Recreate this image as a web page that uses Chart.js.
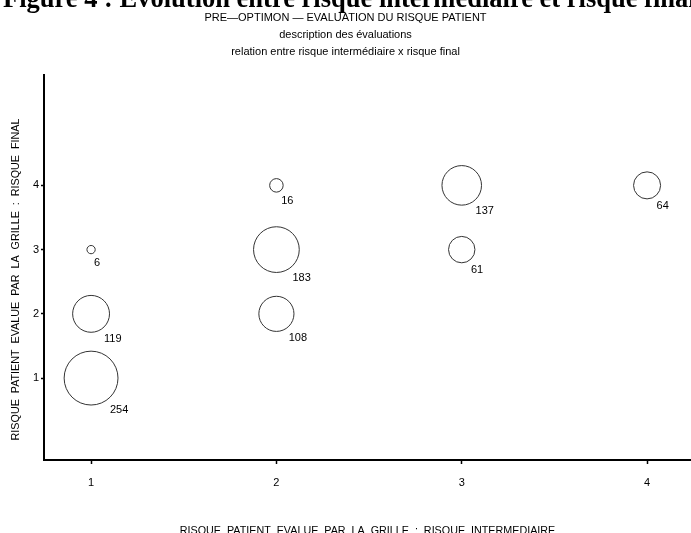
<!DOCTYPE html>
<html lang="fr">
<head>
  <meta charset="UTF-8">
  <title>Evolution entre risque intermédiaire et risque final</title>
  <script src="https://cdn.jsdelivr.net/npm/chart.js"></script>
  <style>
    html, body { margin: 0; padding: 0; background: #fff; overflow: hidden; }
    .page { position: relative; width: 691px; height: 533px; overflow: hidden; }
    .caption {
      position: absolute; left: 3px; top: -15px; white-space: nowrap;
      font: bold 26.5px/26.5px "Liberation Serif", "Times New Roman", serif; color: #000;
    }
    canvas { position: absolute; left: 0; top: 0; }
  </style>
</head>
<body>
  <div class="page">
    <canvas id="bubbleChart" width="691" height="533"></canvas>
    <div class="caption">Figure 4 : Evolution entre risque intermédiaire et risque final</div>
  </div>

  <script>
    // risque intermediaire (x), risque final (y), nombre de patients
    const risqueInter = [1, 1, 1, 2, 2, 2, 3, 3, 4];
    const risqueFinal = [1, 2, 3, 2, 3, 4, 3, 4, 4];
    const effectifs = [254, 119, 6, 108, 183, 16, 61, 137, 64];
    const tickValues = [1, 2, 3, 4];

    const titleLines = [
      "PRE\u2014OPTIMON \u2014 EVALUATION DU RISQUE PATIENT",
      "description des évaluations",
      "relation entre risque intermédiaire x risque final"
    ];
    const xTitle = "RISQUE  PATIENT  EVALUE  PAR  LA  GRILLE  :  RISQUE  INTERMEDIAIRE";
    const yTitle = "RISQUE  PATIENT  EVALUE  PAR  LA  GRILLE  :  RISQUE  FINAL";
    const font = "'Liberation Sans', Arial, sans-serif";

    const points = risqueInter.map((x, i) => ({ x: x, y: risqueFinal[i] }));
    const radiusFor = n => 1.69 * Math.sqrt(n);

    // count written below right of each circle
    const countLabels = {
      id: "countLabels",
      afterDatasetsDraw(chart) {
        const ctx = chart.ctx;
        const meta = chart.getDatasetMeta(0);
        ctx.save();
        ctx.font = "11px " + font;
        ctx.fillStyle = "#000";
        ctx.textAlign = "left";
        ctx.textBaseline = "middle";
        meta.data.forEach((el, i) => {
          const r = radiusFor(effectifs[i]);
          ctx.fillText(String(effectifs[i]), el.x + 0.7 * r, el.y + 0.78 * r + 10.5);
        });
        ctx.restore();
      }
    };

    // vertical axis title, sits a bit below the middle of the axis
    const yAxisTitle = {
      id: "yAxisTitle",
      afterDraw(chart) {
        const ctx = chart.ctx;
        const area = chart.chartArea;
        ctx.save();
        ctx.translate(16, (area.top + area.bottom) / 2 + 12);
        ctx.rotate(-Math.PI / 2);
        ctx.font = "10.75px " + font;
        ctx.fillStyle = "#000";
        ctx.textAlign = "center";
        ctx.textBaseline = "middle";
        ctx.fillText(yTitle, 0, 0);
        ctx.restore();
      }
    };

    const noPadding = s => {
      s.paddingLeft = 0; s.paddingRight = 0; s.paddingTop = 0; s.paddingBottom = 0;
    };

    new Chart(document.getElementById("bubbleChart"), {
      type: "bubble",
      data: {
        datasets: [{
          data: points,
          radius: ctx => radiusFor(effectifs[ctx.dataIndex]),
          backgroundColor: "rgba(0,0,0,0)",
          borderColor: "#333",
          borderWidth: 1,
          hoverRadius: 0
        }]
      },
      options: {
        responsive: false,
        animation: false,
        events: [],
        layout: { padding: 0, autoPadding: false },
        plugins: {
          legend: { display: false },
          tooltip: { enabled: false },
          title: {
            display: true,
            text: titleLines,
            color: "#000",
            font: { family: font, size: 11, weight: "normal", lineHeight: 17 / 11 },
            padding: { top: 9, bottom: 15 }
          }
        },
        scales: {
          x: {
            type: "linear",
            min: 0.746,
            max: 4.237,
            afterBuildTicks: s => { s.ticks = tickValues.map(v => ({ value: v })); },
            afterFit: s => { s.height = 73; noPadding(s); },
            grid: { display: true, drawOnChartArea: false, drawTicks: true, tickLength: 4, tickColor: "#000", tickWidth: 1.5 },
            border: { display: true, color: "#000", width: 2 },
            ticks: { color: "#000", font: { family: font, size: 11 }, padding: 12, maxRotation: 0 },
            title: {
              display: true,
              text: xTitle,
              color: "#000",
              font: { family: font, size: 10.75 },
              padding: { top: 0, bottom: -4.5 }
            }
          },
          y: {
            type: "linear",
            min: -0.275,
            max: 5.718,
            afterBuildTicks: s => { s.ticks = tickValues.map(v => ({ value: v })); },
            afterFit: s => { s.width = 44; noPadding(s); },
            grid: { display: true, drawOnChartArea: false, drawTicks: true, tickLength: 3, tickColor: "#000", tickWidth: 1.5 },
            border: { display: true, color: "#000", width: 2 },
            ticks: { color: "#000", font: { family: font, size: 11 }, padding: 2 },
            title: { display: false }
          }
        }
      },
      plugins: [countLabels, yAxisTitle]
    });
  </script>
</body>
</html>
